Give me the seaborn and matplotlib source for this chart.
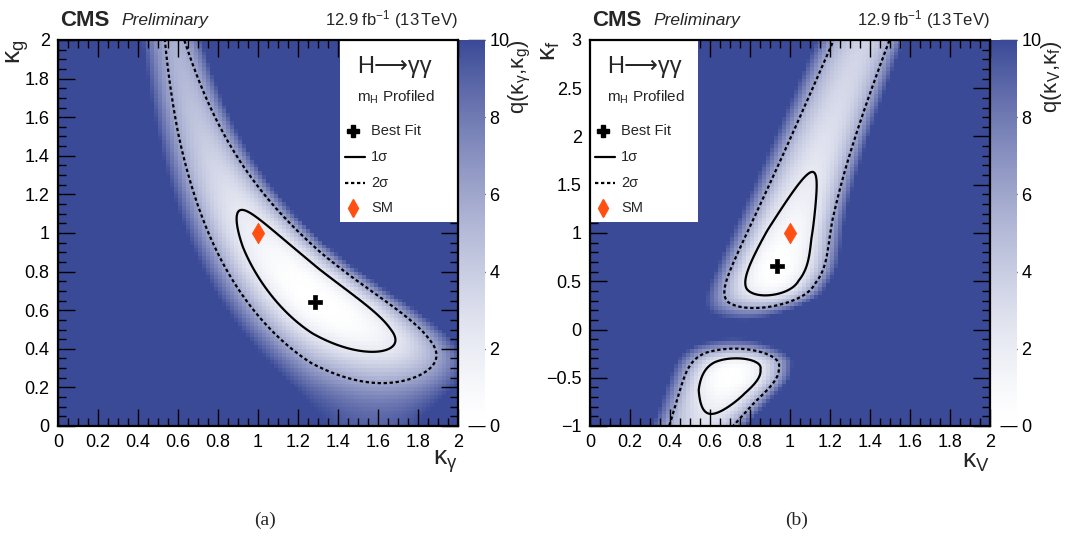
import numpy as np
import pandas as pd
import matplotlib
matplotlib.use("Agg")
import matplotlib.pyplot as plt
import seaborn as sns
from matplotlib.colors import ListedColormap
from matplotlib.ticker import MultipleLocator, FuncFormatter
from matplotlib.lines import Line2D
from matplotlib.patches import Rectangle

sns.set_style("ticks")
plt.rcParams["font.family"] = ["Liberation Sans", "DejaVu Sans"]
plt.rcParams["mathtext.fontset"] = "custom"
plt.rcParams["mathtext.rm"] = "Liberation Sans"
plt.rcParams["mathtext.it"] = "Liberation Sans:italic"
plt.rcParams["mathtext.bf"] = "Liberation Sans:bold"

# Signal-strength likelihood for (ggH-like, VBF-like) yields:
# best-fit values, (down, up) uncertainties, correlation and Box-Cox powers
MU_HAT_A = [0.7451, 1.7393]
SIG_GG_A = [0.2497, 0.2992]
SIG_VBF_A = [0.6281, 0.8604]
RHO_A = -0.3962
POW_A = [1.0, 1.0]

MU_HAT_B = [0.7724, 1.6649]
SIG_GG_B = [0.2101, 0.3193]
SIG_VBF_B = [0.7897, 0.9786]
RHO_B = -0.4413
POW_B = [1.077, 0.781]

# Marked points
A_BEST = (1.285, 0.641)
A_SM = (1.0, 1.0)
B_BEST = (0.937, 0.658)
B_SM = (1.0, 1.0)

LEVELS = [2.30, 5.99]  # 68% and 95% CL in two dimensions
Q_TICKS = [0, 2, 4, 6, 8, 10]


def yields_a(kgam, kglu):
    width = 1 + 0.086 * (kglu**2 - 1) + 0.0023 * (kgam**2 - 1)
    return kglu**2 * kgam**2 / width, kgam**2 / width


def yields_b(kv, kf):
    kgam2 = 1.59 * kv**2 + 0.07 * kf**2 - 0.66 * kv * kf
    width = 0.75 * kf**2 + 0.25 * kv**2
    return kf**2 * kgam2 / width, kv**2 * kgam2 / width


def boxcox(x, p):
    x = np.maximum(x, 1e-6)
    if abs(p) < 1e-3:
        return np.log(x)
    return (x**p - 1) / p


def qfun(mgg, mvbf, mu, sgg, svbf, rho, pw):
    du = boxcox(mgg, pw[0]) - boxcox(mu[0], pw[0])
    dv = boxcox(mvbf, pw[1]) - boxcox(mu[1], pw[1])
    a = du / np.where(du < 0, sgg[0], sgg[1])
    b = dv / np.where(dv < 0, svbf[0], svbf[1])
    return (a * a - 2 * rho * a * b + b * b) / (1 - rho**2)


W, H = 1066, 541
fig = plt.figure(figsize=(W / 100, H / 100), dpi=100)


def fx(px):
    return px / W


def fy(py):
    return 1 - py / H


white = np.array([1.0, 1.0, 1.0])
blue = np.array([59, 74, 151]) / 255
t = np.linspace(0, 1, 256)[:, None] ** 1.4
cmap = ListedColormap(white + t * (blue - white))

panels = [
    dict(left=58, xlim=(0, 2), ylim=(0, 2), mapper=yields_a,
         lik=(MU_HAT_A, SIG_GG_A, SIG_VBF_A, RHO_A, POW_A), best=A_BEST, sm=A_SM,
         xmaj=0.2, xmin=0.05, ymaj=0.2, ymin=0.05,
         xlabel=r"$\mathrm{\kappa}_{\mathrm{\gamma}}$", ylabel=r"$\mathrm{\kappa}_{\mathrm{g}}$",
         zlabel=r"q($\mathrm{\kappa}_{\mathrm{\gamma}}$,$\mathrm{\kappa}_{\mathrm{g}}$)",
         box=(340, 458), tag="(a)"),
    dict(left=590, xlim=(0, 2), ylim=(-1, 3), mapper=yields_b,
         lik=(MU_HAT_B, SIG_GG_B, SIG_VBF_B, RHO_B, POW_B), best=B_BEST, sm=B_SM,
         xmaj=0.2, xmin=0.05, ymaj=0.5, ymin=0.1,
         xlabel=r"$\mathrm{\kappa}_{\mathrm{V}}$", ylabel=r"$\mathrm{\kappa}_{\mathrm{f}}$",
         zlabel=r"q($\mathrm{\kappa}_{\mathrm{V}}$,$\mathrm{\kappa}_{\mathrm{f}}$)",
         box=(590, 698), tag="(b)"),
]

NB = 100
TOP, BOT = 40, 426
DOTS = (0, (1.5, 1.2))

for P in panels:
    L = P["left"]
    pos = [fx(L), fy(BOT), 400 / W, (BOT - TOP) / H]
    ax = fig.add_axes(pos)
    cax = fig.add_axes([fx(L + 401), fy(BOT), 26 / W, (BOT - TOP) / H])

    # binned scan drawn as a heatmap
    x0, x1 = P["xlim"]
    y0, y1 = P["ylim"]
    xc = x0 + (np.arange(NB) + 0.5) * (x1 - x0) / NB
    yc = y0 + (np.arange(NB) + 0.5) * (y1 - y0) / NB
    XX, YY = np.meshgrid(xc, yc)
    qcell = qfun(*P["mapper"](XX, YY), *P["lik"])
    qcell = np.clip(qcell - qcell.min(), 0, 50)
    df = pd.DataFrame(qcell, index=np.round(yc, 3), columns=np.round(xc, 3))
    sns.heatmap(df, ax=ax, cmap=cmap, vmin=0, vmax=10, cbar_ax=cax,
                xticklabels=False, yticklabels=False,
                cbar_kws=dict(ticks=Q_TICKS))
    ax.invert_yaxis()
    ax.set_xlabel("")
    ax.set_ylabel("")
    ax.tick_params(left=False, bottom=False)

    cb = ax.collections[0].colorbar
    cb.outline.set_visible(False)
    cax.tick_params(direction="in", length=12, width=1, labelsize=13, pad=3, colors="black")
    cax.yaxis.set_ticks_position("right")

    # overlay in physical coordinates: contours, markers, frame
    ov = fig.add_axes(pos, facecolor="none")
    ov.set_xlim(x0, x1)
    ov.set_ylim(y0, y1)

    nf = 400
    xf = x0 + (np.arange(nf) + 0.5) * (x1 - x0) / nf
    yf = y0 + (np.arange(nf) + 0.5) * (y1 - y0) / nf
    XF, YF = np.meshgrid(xf, yf)
    qf = qfun(*P["mapper"](XF, YF), *P["lik"])
    qf = np.clip(qf - qf.min(), 0, 50)
    ov.contour(XF, YF, qf, levels=[LEVELS[0]], colors="black", linewidths=1.6,
               linestyles="solid", zorder=1.5)
    ov.contour(XF, YF, qf, levels=[LEVELS[1]], colors="black", linewidths=1.6,
               linestyles=[DOTS], zorder=1.5)

    sns.scatterplot(x=[P["best"][0]], y=[P["best"][1]], marker="P", s=110, color="black",
                    edgecolor="black", linewidth=0.5, ax=ov, zorder=4, legend=False)
    sns.scatterplot(x=[P["sm"][0]], y=[P["sm"][1]], marker="d", s=110, color="#ff4f12",
                    edgecolor="#ff4f12", linewidth=0.5, ax=ov, zorder=4, legend=False)
    ov.set_xlabel("")
    ov.set_ylabel("")

    for side in ["left", "right", "top", "bottom"]:
        ov.spines[side].set_linewidth(1.6)
        ov.spines[side].set_color("black")
    ov.xaxis.set_major_locator(MultipleLocator(P["xmaj"]))
    ov.xaxis.set_minor_locator(MultipleLocator(P["xmin"]))
    ov.yaxis.set_major_locator(MultipleLocator(P["ymaj"]))
    ov.yaxis.set_minor_locator(MultipleLocator(P["ymin"]))
    fmt = FuncFormatter(lambda v, _: f"{v:g}".replace("-", "\u2212"))
    ov.xaxis.set_major_formatter(fmt)
    ov.yaxis.set_major_formatter(fmt)
    ov.tick_params(which="both", direction="in", top=True, right=True, width=1, colors="black")
    ov.tick_params(which="major", length=12, labelsize=13, pad=6)
    ov.tick_params(which="minor", length=6)

    # legend panel
    bx0, bx1 = P["box"]

    def axf(px, py):
        return ((px - L) / 400, (BOT - py) / (BOT - TOP))

    xa, ya = axf(bx0, 222)
    xb, _ = axf(bx1, 222)
    ov.add_patch(Rectangle((xa, ya), xb - xa, 1 - ya, transform=ov.transAxes,
                           facecolor="white", edgecolor="none", zorder=2.2))
    tx = bx0 + 17
    ov.text(*axf(tx, 67), "H\u27f6\u03b3\u03b3", transform=ov.transAxes, fontsize=17,
            va="center", ha="left", zorder=3)
    ov.text(*axf(tx, 97), r"m$_{\mathrm{H}}$ Profiled", transform=ov.transAxes, fontsize=11,
            va="center", ha="left", zorder=3)
    ex = bx0 + 31
    rows = [131, 157, 183, 208]
    ov.plot(*axf(bx0 + 13, rows[0]), marker="P", ms=9, color="black",
            transform=ov.transAxes, zorder=3)
    ov.add_line(Line2D([axf(bx0 + 5, 0)[0], axf(bx0 + 25, 0)[0]], [axf(0, rows[1])[1]] * 2,
                       transform=ov.transAxes, color="black", lw=1.6, zorder=3))
    ov.add_line(Line2D([axf(bx0 + 5, 0)[0], axf(bx0 + 25, 0)[0]], [axf(0, rows[2])[1]] * 2,
                       transform=ov.transAxes, color="black", lw=1.6, ls=DOTS, zorder=3))
    ov.plot(*axf(bx0 + 13, rows[3]), marker="d", ms=9, color="#ff4f12",
            transform=ov.transAxes, zorder=3)
    for r, lab in zip(rows, ["Best Fit", "1\u03c3", "2\u03c3", "SM"]):
        ov.text(*axf(ex, r), lab, transform=ov.transAxes, fontsize=10.5,
                va="center", ha="left", zorder=3)

    # titles and axis labels
    fig.text(fx(L + 2), fy(20), "CMS", fontsize=16, fontweight="bold", va="center", ha="left")
    fig.text(fx(L + 63), fy(21), "Preliminary", fontsize=12.5, fontstyle="italic",
             va="center", ha="left")
    fig.text(fx(L + 400), fy(20), r"12.9 fb$^{-1}$ (13$\,$TeV)", fontsize=12,
             va="center", ha="right")
    fig.text(fx(L + 400), fy(462), P["xlabel"], fontsize=19, ha="right", va="center")
    fig.text(fx(L - 40), fy(TOP), P["ylabel"], fontsize=19, ha="center", va="top", rotation=90)
    fig.text(fx(L + 462), fy(TOP), P["zlabel"], fontsize=16, ha="center", va="top", rotation=90)
    fig.text(fx(L + 207), fy(520), P["tag"], fontsize=14,
             family=["Liberation Serif", "DejaVu Serif"], ha="center", va="center")

fig.savefig("out.png", dpi=100)
